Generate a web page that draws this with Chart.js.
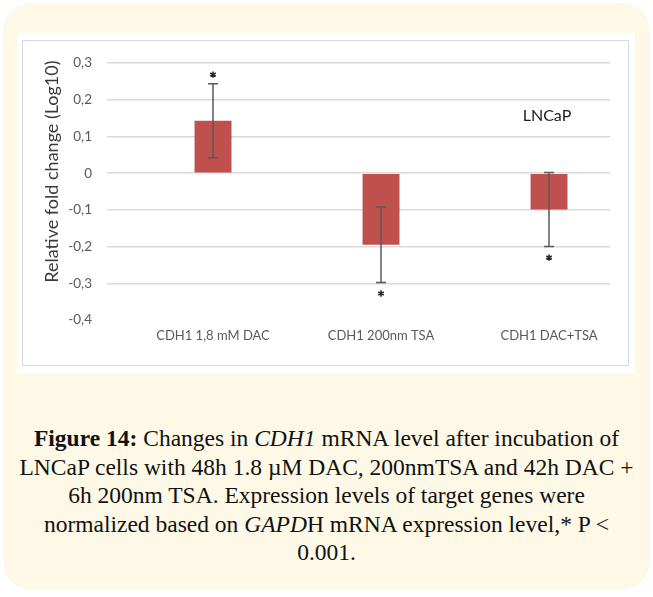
<!DOCTYPE html>
<html>
<head>
<meta charset="utf-8">
<script src="https://cdn.jsdelivr.net/npm/chart.js@4/dist/chart.umd.min.js"></script>
<style>
    html, body { margin: 0; padding: 0; background: #ffffff; }
    body { width: 653px; height: 597px; position: relative; overflow: hidden; }
    .card {
        position: absolute; left: 3px; top: 3px; width: 647px; height: 587px;
        background: #fef9e6; border-radius: 28px;
    }
    .panel {
        position: absolute; left: 17px; top: 33px; width: 618px; height: 340px;
        background: #ffffff;
    }
    .frame {
        position: absolute; left: 22px; top: 40px; width: 605px; height: 324px;
        border: 1px solid #d9d9d9;
    }
    .chart-box { position: absolute; left: 22px; top: 40px; width: 606px; height: 325px; }
    .caption {
        position: absolute; left: 0px; top: 424px; width: 653px;
        text-align: center; font-family: "Liberation Serif", serif; font-size: 23.5px;
        line-height: 28.5px; color: #111111; white-space: nowrap;
    }
</style>
</head>
<body>
<div class="card"></div>
<div class="panel"></div>
<div class="frame"></div>
<div class="chart-box"><canvas id="cdh1Chart"></canvas></div>
<div class="caption">
    <b>Figure 14:</b> Changes in <i>CDH1</i> mRNA level after incubation of<br>
    LNCaP cells with 48h 1.8 µM DAC, 200nmTSA and 42h DAC +<br>
    6h 200nm TSA. Expression levels of target genes were<br>
    normalized based on <i>GAPD</i>H mRNA expression level,* P &lt;<br>
    0.001.
</div>
<script>
const categories = ["CDH1 1,8 mM DAC", "CDH1 200nm TSA", "CDH1 DAC+TSA"];
const foldChange = [0.143, -0.195, -0.099];
const errorSize = [0.101, 0.103, 0.101];
const yTicks = [-0.4, -0.3, -0.2, -0.1, 0, 0.1, 0.2, 0.3];

function formatComma(value) {
    if (Math.abs(value) < 1e-9) return "0";
    return value.toFixed(1).replace(".", ",");
}

function drawStar(ctx, x, y) {
    const r = 3.2;
    ctx.beginPath();
    for (let k = 0; k < 3; k++) {
        const a = Math.PI / 2 + k * Math.PI / 3;
        ctx.moveTo(x - r * Math.cos(a), y - r * Math.sin(a));
        ctx.lineTo(x + r * Math.cos(a), y + r * Math.sin(a));
    }
    ctx.stroke();
}

// error bars, significance stars and the extra labels
const errorBarPlugin = {
    id: "errorBars",
    afterDatasetsDraw(chart) {
        const { ctx, scales, chartArea } = chart;
        const meta = chart.getDatasetMeta(0);
        ctx.save();
        meta.data.forEach((bar, i) => {
            const x = bar.x;
            const top = scales.y.getPixelForValue(foldChange[i] + errorSize[i]);
            const bottom = scales.y.getPixelForValue(foldChange[i] - errorSize[i]);
            ctx.strokeStyle = "#595959";
            ctx.lineWidth = 1.5;
            ctx.beginPath();
            ctx.moveTo(x, top);
            ctx.lineTo(x, bottom);
            ctx.moveTo(x - 5, top);
            ctx.lineTo(x + 5, top);
            ctx.moveTo(x - 5, bottom);
            ctx.lineTo(x + 5, bottom);
            ctx.stroke();

            ctx.strokeStyle = "#2a2a2a";
            ctx.lineWidth = 1.6;
            const starY = foldChange[i] > 0 ? top - 9 : bottom + 11;
            drawStar(ctx, x, starY);
        });

        ctx.fillStyle = "#1a1a1a";
        ctx.font = "16px Lato";
        ctx.textAlign = "center";
        ctx.textBaseline = "middle";
        ctx.fillText("LNCaP", scales.x.getPixelForValue(2) - 2, scales.y.getPixelForValue(0.155));

        // y axis title sits a bit above the middle in the original
        ctx.translate(chartArea.left - 55, (chartArea.top + chartArea.bottom) / 2 - 20);
        ctx.rotate(-Math.PI / 2);
        ctx.fillStyle = "#3a3a3a";
        ctx.font = "18px Lato";
        ctx.fillText("Relative fold change (Log10)", 0, 0);
        ctx.restore();
    },
};

new Chart(document.getElementById("cdh1Chart"), {
    type: "bar",
    data: {
        datasets: [{
            data: foldChange.map((v, i) => ({ x: i, y: v })),
            backgroundColor: "#c0504d",
            borderWidth: 0,
            categoryPercentage: 1,
            barPercentage: 0.22,
        }],
    },
    options: {
        responsive: true,
        maintainAspectRatio: false,
        animation: false,
        layout: { padding: { top: 21, right: 18, bottom: 0, left: 0 } },
        plugins: { legend: { display: false }, tooltip: { enabled: false } },
        scales: {
            x: {
                type: "linear",
                min: -0.631,
                max: 2.363,
                offset: false,
                afterBuildTicks(scale) { scale.ticks = categories.map((c, i) => ({ value: i })); },
                grid: { display: false, drawTicks: false, offset: false },
                border: { display: false },
                ticks: {
                    color: "#595959",
                    font: { family: "Lato", size: 13 },
                    padding: 8,
                    callback: (v) => categories[v],
                },
                afterFit(scale) { scale.height = 45; },
            },
            y: {
                min: -0.4,
                max: 0.3,
                afterBuildTicks(scale) { scale.ticks = yTicks.map(v => ({ value: v })); },
                grid: {
                    drawTicks: false,
                    lineWidth: 1.5,
                    color: (c) => (c.tick && c.tick.value <= -0.4 + 1e-9 ? "rgba(0,0,0,0)" : "#d9d9d9"),
                },
                border: { display: false },
                ticks: {
                    color: "#595959",
                    font: { family: "Lato", size: 13.5 },
                    padding: 15,
                    callback: (v) => formatComma(v),
                },
                afterFit(scale) { scale.width = 85; },
            },
        },
    },
    plugins: [errorBarPlugin],
});
</script>
</body>
</html>
